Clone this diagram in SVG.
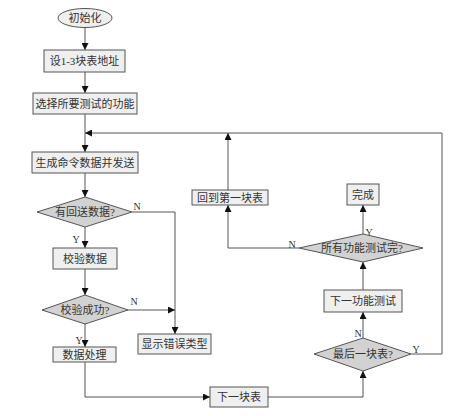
<svg xmlns="http://www.w3.org/2000/svg" width="454" height="416" viewBox="0 0 454 416">
<defs>
<marker id="ah" viewBox="0 0 10 10" refX="10" refY="5" markerWidth="7" markerHeight="7" markerUnits="userSpaceOnUse" orient="auto">
<path d="M0,0 L10,5 L0,10 z" fill="#111"/>
</marker>
<style>
.box{fill:#efefef;stroke:#555;stroke-width:1}
.dia{fill:#d2d2d2;stroke:#555;stroke-width:1}
.t{font-family:"Liberation Serif","Noto Sans CJK SC",serif;font-size:11px;fill:#333;text-anchor:middle;dominant-baseline:central}
.lb{font-family:"Liberation Serif","Noto Sans CJK SC",serif;font-size:10px;fill:#333;text-anchor:middle;dominant-baseline:central}
.c{fill:none;stroke:#555;stroke-width:1}
.a{marker-end:url(#ah)}
</style>
</defs>
<rect width="454" height="416" fill="#fff"/>
<g id="connectors">
<path class="c a" d="M85,27 V50"/>
<path class="c a" d="M85,72 V93"/>
<path class="c a" d="M85,114 V152"/>
<path class="c a" d="M411,354 H442 V133 H85"/>
<path class="c a" d="M85,173 V197"/>
<path class="c a" d="M132,212 H175 V334"/>
<path class="c a" d="M85,227 V248"/>
<path class="c a" d="M85,269 V295"/>
<path class="c a" d="M128,310 H175"/>
<path class="c a" d="M85,324 V347"/>
<path class="c a" d="M85,362 V397 H210"/>
<path class="c a" d="M268,397 H363 V371"/>
<path class="c a" d="M363,338 V312"/>
<path class="c a" d="M363,290 V262"/>
<path class="c a" d="M363,234 V205"/>
<path class="c a" d="M299,248 H228 V205"/>
<path class="c a" d="M228,190 V133"/>
<text class="lb" x="137" y="206">N</text>
<text class="lb" x="76" y="239">Y</text>
<text class="lb" x="134" y="301">N</text>
<text class="lb" x="79" y="340">Y</text>
<text class="lb" x="416" y="349">Y</text>
<text class="lb" x="358" y="333">N</text>
<text class="lb" x="369" y="232">Y</text>
<text class="lb" x="292" y="244">N</text>
</g>
<g id="start"><ellipse class="box" cx="85" cy="18" rx="27" ry="9.5"/><text class="t" x="85" y="18">初始化</text></g>
<g id="setaddr"><rect class="box" x="44" y="50" width="81" height="22"/><text class="t" x="84.5" y="61">设1-3块表地址</text></g>
<g id="select"><rect class="box" x="33" y="93" width="104" height="21"/><text class="t" x="85" y="103.5">选择所要测试的功能</text></g>
<g id="gen"><rect class="box" x="32" y="152" width="106" height="21"/><text class="t" x="85" y="162.5">生成命令数据并发送</text></g>
<g id="hasreply"><polygon class="dia" points="37,212 85,197 132,212 85,227"/><text class="t" x="85" y="212">有回送数据?</text></g>
<g id="verify"><rect class="box" x="53" y="248" width="64" height="21"/><text class="t" x="85" y="258.5">校验数据</text></g>
<g id="verifyok"><polygon class="dia" points="42,310 85,295 128,310 85,324"/><text class="t" x="85" y="309.5">校验成功?</text></g>
<g id="process"><rect class="box" x="53" y="347" width="63" height="15"/><text class="t" x="84.5" y="354.5">数据处理</text></g>
<g id="error"><rect class="box" x="138" y="334" width="73" height="20"/><text class="t" x="174.5" y="344">显示错误类型</text></g>
<g id="nextmeter"><rect class="box" x="210" y="387" width="58" height="20"/><text class="t" x="239" y="397">下一块表</text></g>
<g id="lastmeter"><polygon class="dia" points="314,354 363,338 411,354 363,371"/><text class="t" x="363" y="354">最后一块表?</text></g>
<g id="nextfunc"><rect class="box" x="324" y="290" width="78" height="22"/><text class="t" x="363" y="301">下一功能测试</text></g>
<g id="alldone"><polygon class="dia" points="299,248 363,234 423,248 363,262"/><text class="t" x="362" y="248">所有功能测试完?</text></g>
<g id="done"><rect class="box" x="347" y="184" width="32" height="21"/><text class="t" x="363" y="194.5">完成</text></g>
<g id="back"><rect class="box" x="192" y="190" width="76" height="15"/><text class="t" x="230" y="197.5">回到第一块表</text></g>
</svg>
